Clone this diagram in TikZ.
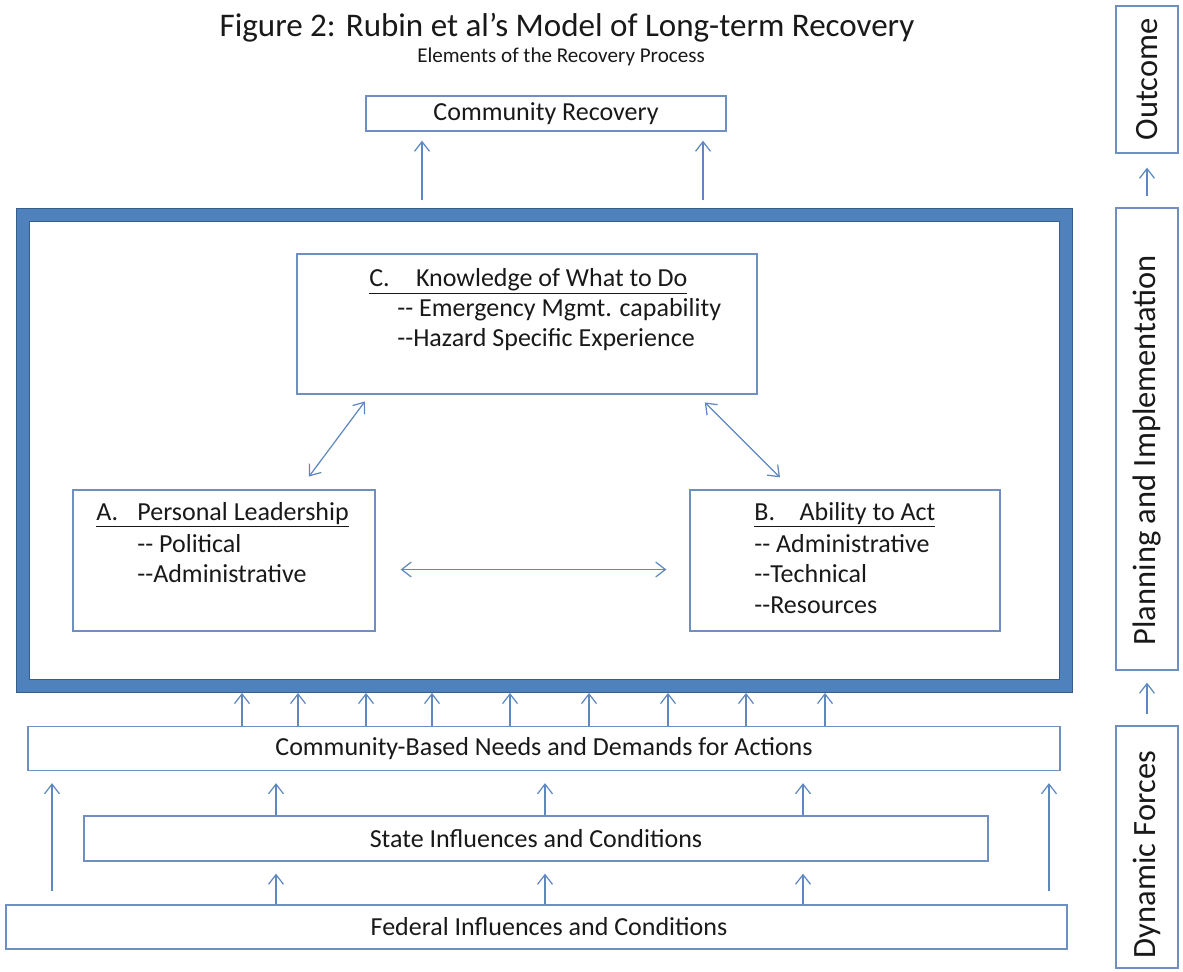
\documentclass[tikz,border=0pt]{standalone}
\usepackage{fontspec}
\setmainfont{Carlito}[Ligatures=TeXOff]
\usetikzlibrary{arrows.meta}
\definecolor{boxline}{RGB}{110,143,192}
\definecolor{arrowblue}{RGB}{95,135,192}
\definecolor{framedark}{RGB}{56,93,138}
\definecolor{framemid}{RGB}{79,129,189}
\definecolor{ink}{RGB}{25,25,25}

\begin{document}
\begin{tikzpicture}[
		x=0.02cm, y=-0.02cm,
		body/.style={font=\fontsize{14.8}{17.6}\selectfont, text=ink},
		box/.style={body, draw=boxline, line width=0.75pt, inner sep=0pt},
		sidebox/.style={box, minimum width=1.24cm, font=\fontsize{18.5}{21}\selectfont},
		txt/.style={body, anchor=base west, inner sep=0pt},
		arr/.style={draw=arrowblue, line width=0.7pt, -{Straight Barb[length=5.5pt,width=8.5pt]}},
		darr/.style={arr, {Straight Barb[length=5.5pt,width=8.5pt]}-{Straight Barb[length=5.5pt,width=8.5pt]}},
	]
		\useasboundingbox (0,0) rectangle (1183,971);

		% heading
		\node (title) [text=ink, font=\fontsize{18.8}{22}\selectfont] at (567,28) {Figure 2: Rubin et al’s Model of Long-term Recovery};
		\node (subtitle) [text=ink, font=\fontsize{12}{14}\selectfont] at (561,57) {Elements of the Recovery Process};
		\node (recov) [box, minimum width=7.2cm, minimum height=0.7cm] at (546,113.5) {Community Recovery};

		% planning and implementation frame
		\node (frame) [draw=framedark, line width=0.6pt, double=framemid, double distance=6.8pt,
			minimum width=20.87cm, minimum height=9.42cm, outer sep=0.14cm] at (544.75,450.5) {};

		\node (C) [box, minimum width=9.2cm, minimum height=2.8cm] at (527,324) {};
		\node (c1) [txt] at (369,286) {\underline{C.\hspace{15pt}Knowledge of What to Do}};
		\node (c2) [txt] at (397,316) {-- Emergency Mgmt. capability};
		\node (c3) [txt] at (397,346) {--Hazard Specific Experience};

		\node (A) [box, minimum width=6.04cm, minimum height=2.82cm] at (224,560.5) {};
		\node (a1) [txt] at (96,520) {\underline{A.\hspace{11pt}Personal Leadership}};
		\node (a2) [txt] at (137,552) {-- Political};
		\node (a3) [txt] at (137,582) {--Administrative};

		\node (B) [box, minimum width=6.2cm, minimum height=2.82cm] at (845,560.5) {};
		\node (b1) [txt] at (754,520) {\underline{B.\hspace{14pt}Ability to Act}};
		\node (b2) [txt] at (754,552) {-- Administrative};
		\node (b3) [txt] at (754,582) {--Technical};
		\node (b4) [txt] at (754,613) {--Resources};

		% dynamic forces
		\node (needs) [box, minimum width=20.64cm, minimum height=0.88cm] at (544,748.5) {Community-Based Needs and Demands for Actions};
		\node (state) [box, minimum width=18.08cm, minimum height=0.9cm] at (536,838.5) {State Influences and Conditions};
		\node (federal) [box, minimum width=21.22cm, minimum height=0.88cm] at (536.5,927) {\hspace{0.5cm}Federal Influences and Conditions};

		% side column
		\node (outcome) [sidebox, minimum height=2.94cm] at (1147,79.5) {\rotatebox{90}{Outcome}};
		\node (planning) [sidebox, minimum height=9.24cm] at (1147,439) {\rotatebox{90}{Planning and Implementation\hspace{0.45cm}}};
		\node (dynamic) [sidebox, minimum height=4.84cm] at (1147,847) {\rotatebox{90}{Dynamic Forces\hspace{0.3cm}}};

		\draw[arr, shorten <=0.22cm, shorten >=0.28cm] (planning.north) -- (outcome.south);
		\draw[arr, shorten <=0.22cm, shorten >=0.24cm] (dynamic.north) -- (planning.south);

		% connectors
		\foreach \x in {422,703}
			\draw[arr, shorten <=0.16cm, shorten >=0.18cm] (frame.north -| \x,0) -- (recov.south -| \x,0);

		\draw[darr, shorten <=0.32cm, shorten >=0.17cm] (A.north -| 299.4,0) -- (C.south -| 370,0);
		\draw[darr, shorten <=0.22cm, shorten >=0.34cm] (C.south -| 697,0) -- (B.north -| 792,0);
		\draw[darr, shorten <=0.5cm, shorten >=0.46cm] ([yshift=-0.18cm]A.east) -- ([yshift=-0.18cm]B.west);

		\foreach \x in {242,298,366,432,510,589,668,746,825}
			\draw[arr] (needs.north -| \x,0) -- (frame.south -| \x,0);
		\foreach \x in {276,545,803}
			\draw[arr, shorten >=0.24cm] (state.north -| \x,0) -- (needs.south -| \x,0);
		\foreach \x in {276,545,803}
			\draw[arr, shorten >=0.24cm] (federal.north -| \x,0) -- (state.south -| \x,0);
		\foreach \x in {52,1049}
			\draw[arr, shorten <=0.26cm, shorten >=0.24cm] (federal.north -| \x,0) -- (needs.south -| \x,0);
	\end{tikzpicture}
\end{document}
